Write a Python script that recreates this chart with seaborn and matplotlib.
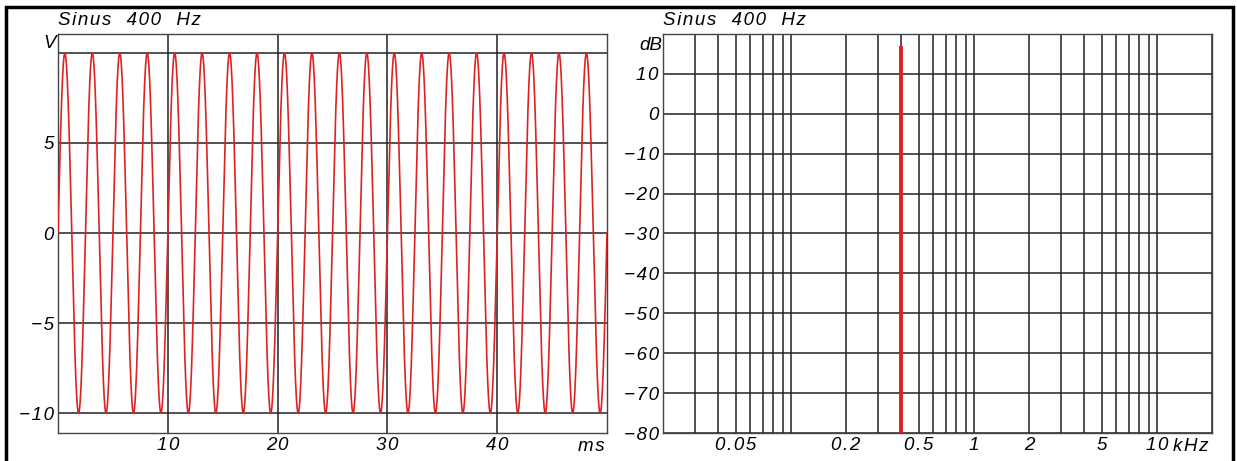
import numpy as np
import pandas as pd
import seaborn as sns
import matplotlib.pyplot as plt
from matplotlib.patches import Rectangle
from matplotlib.ticker import LogLocator, FixedLocator, NullFormatter
import matplotlib.transforms as mtransforms

# signal: pure tone as named in the title
title = 'Sinus  400  Hz'
freq_hz = 400
amplitude_v = 10
duration_ms = 50

# spectrum: one line at the tone frequency
spec_freq_khz = [0.4]
spec_level_db = [17]

time_ticks = [10, 20, 30, 40]
volt_ticks = [-10, -5, 0, 5, 10]
freq_ticks = [0.05, 0.2, 0.5, 1, 2, 5, 10]
freq_labels = ['0.05', '0.2', '0.5', '1', '2', '5', '10']
db_ticks = list(range(-80, 11, 10))

t_ms = np.linspace(0, duration_ms, 4001)
volts = amplitude_v * np.sin(2 * np.pi * freq_hz * t_ms / 1000)
df = pd.DataFrame({'t': t_ms, 'v': volts})


def sp(s):
    # wide letter spacing like the original plotter font
    return '\u200a'.join(s)


def num(v):
    return sp(('\u2212%g' % -v) if v < 0 else '%g' % v)


sns.set_style('white')
plt.rcParams['font.family'] = ['Liberation Sans', 'DejaVu Sans']
plt.rcParams['font.style'] = 'italic'
plt.rcParams['font.size'] = 13.5
plt.rcParams['text.color'] = 'black'
plt.rcParams['xtick.labelcolor'] = 'black'
plt.rcParams['ytick.labelcolor'] = 'black'

fig = plt.figure(figsize=(12.37, 4.61), dpi=100)
ax1 = fig.add_axes([58/1237, 1-433/461, 549/1237, 399/461])
ax2 = fig.add_axes([663/1237, 1-433/461, 549/1237, 399/461])

grid_kw = dict(color='#222222', lw=1.1)
red = '#dc2323'

# left: time signal
sns.lineplot(data=df, x='t', y='v', ax=ax1, color=red, lw=1.2, zorder=3)
ax1.set_xlim(0, duration_ms)
ax1.set_ylim(-11.1, 11.05)
ax1.set_xticks(time_ticks)
ax1.set_xticklabels([num(v) for v in time_ticks])
ax1.set_yticks(volt_ticks)
ax1.set_yticklabels([num(v) for v in volt_ticks[:-1]] + [''])
ax1.grid(True, **grid_kw)
ax1.set_xlabel('')
ax1.set_ylabel('')
tr1 = mtransforms.blended_transform_factory(ax1.transAxes, ax1.transData)
ax1.text(-0.004, 10.5, 'V', transform=tr1, ha='right', va='center')
tr1x = mtransforms.blended_transform_factory(ax1.transData, ax1.transAxes)
ax1.text(duration_ms - 0.2, -0.012, sp('ms'), transform=tr1x, ha='right', va='top')

# right: spectrum
ax2.vlines(spec_freq_khz, -80, spec_level_db, color=red, lw=2.8, zorder=3)
ax2.set_xscale('log')
ax2.set_xlim(0.02, 20)
ax2.set_ylim(-80, 20)
ax2.xaxis.set_major_locator(FixedLocator(freq_ticks))
ax2.xaxis.set_major_formatter(plt.FixedFormatter([sp(s) for s in freq_labels]))
ax2.xaxis.set_minor_locator(LogLocator(base=10, subs=np.arange(1, 10), numticks=20))
ax2.xaxis.set_minor_formatter(NullFormatter())
ax2.set_yticks(db_ticks)
ax2.set_yticklabels([num(v) for v in db_ticks])
ax2.grid(True, which='both', axis='x', **grid_kw)
ax2.grid(True, which='major', axis='y', **grid_kw)
tr2 = mtransforms.blended_transform_factory(ax2.transAxes, ax2.transData)
ax2.text(-0.002, 17, 'dB', transform=tr2, ha='right', va='center')
tr2x = mtransforms.blended_transform_factory(ax2.transData, ax2.transAxes)
ax2.text(12.3, -0.012, sp('kHz'), transform=tr2x, ha='left', va='top')

for ax in (ax1, ax2):
    ax.tick_params(axis='both', which='both', length=0, pad=3, labelsize=13.5)
    for s in ax.spines.values():
        s.set_color('#444444')
        s.set_linewidth(1.0)
    ax.text(0, 1.012, sp(title), transform=ax.transAxes, ha='left', va='bottom')

# outer frame
fig.patches.append(Rectangle((6/1237, -0.05), 1227/1237, 1.05 - 7/461,
                             transform=fig.transFigure, fill=False,
                             ec='black', lw=2.5))

fig.savefig('out.png', dpi=100)
